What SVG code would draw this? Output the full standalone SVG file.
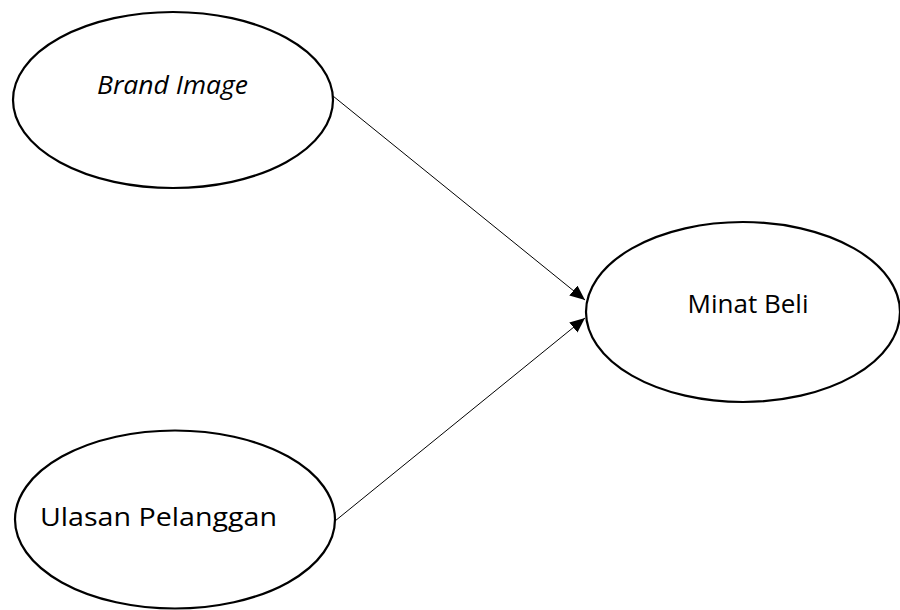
<svg xmlns="http://www.w3.org/2000/svg" width="900" height="610" viewBox="0 0 900 610">
<defs>
<style>
.node ellipse{fill:#fff;stroke:#000;stroke-width:2.2}
.node text{font-family:"Open Sans","Noto Sans",sans-serif;font-size:25px;fill:#000;text-anchor:middle}
.conn line{stroke:#000;stroke-width:1}
</style>
<marker id="ah" markerUnits="userSpaceOnUse" markerWidth="16" markerHeight="14" refX="15" refY="6.5" orient="auto">
<path d="M0,0 L15,6.5 L0,13 z" fill="#000"/>
</marker>
</defs>
<rect width="900" height="610" fill="#fff"/>
<g class="conn">
<line x1="333" y1="96" x2="585" y2="300" marker-end="url(#ah)"/>
<line x1="335" y1="521" x2="585" y2="318" marker-end="url(#ah)"/>
</g>
<g id="brand" class="node">
<ellipse cx="173" cy="100" rx="160" ry="88"/>
<text x="172.5" y="94" font-style="italic" textLength="151" lengthAdjust="spacingAndGlyphs">Brand Image</text>
</g>
<g id="minat" class="node">
<ellipse cx="743" cy="312" rx="157" ry="90"/>
<text x="748" y="313" textLength="121" lengthAdjust="spacingAndGlyphs">Minat Beli</text>
</g>
<g id="ulasan" class="node">
<ellipse cx="175" cy="519.5" rx="160" ry="89"/>
<text x="158.5" y="526" textLength="237" lengthAdjust="spacingAndGlyphs">Ulasan Pelanggan</text>
</g>
</svg>
